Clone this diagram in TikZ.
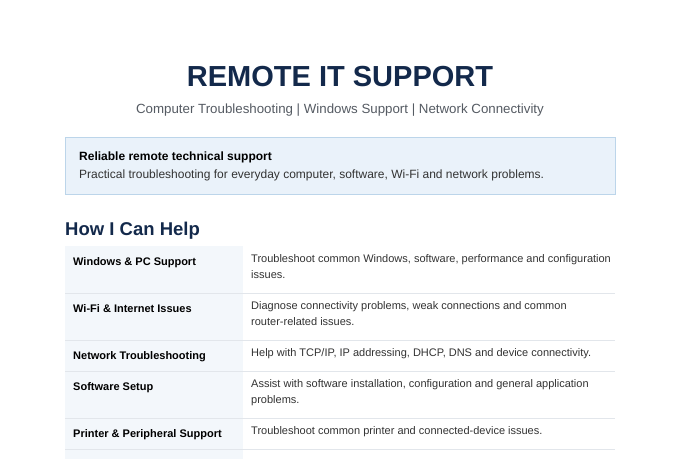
\documentclass[tikz,border=0pt]{standalone}
\usepackage{fontspec}
\setmainfont{Liberation Sans}
\definecolor{navy}{HTML}{13294B}
\definecolor{subg}{HTML}{555B63}
\definecolor{boxf}{HTML}{EAF2FA}
\definecolor{boxd}{HTML}{BCD5EA}
\definecolor{colf}{HTML}{F3F7FB}
\definecolor{rule}{HTML}{E2E6EB}
\definecolor{txt}{HTML}{333333}
\begin{document}
\begin{tikzpicture}[x=1pt,y=-1pt,
  lab/.style={anchor=base west,inner sep=0,font=\fontsize{11}{15.5}\selectfont\bfseries,text=black},
  desc/.style={anchor=north west,inner sep=0,align=left,font=\fontsize{11}{16}\selectfont,text=txt}]
\useasboundingbox[fill=white] (0,0) rectangle (680,459);
\node[anchor=base,inner sep=0,font=\fontsize{29}{30}\selectfont\bfseries,text=navy] (title) at (340,86) {REMOTE IT SUPPORT};
\node[anchor=base,inner sep=0,font=\fontsize{13.3}{15}\selectfont,text=subg] (sub) at (340,113) {Computer Troubleshooting | Windows Support | Network Connectivity};
\node[draw=boxd,fill=boxf,line width=0.8pt,minimum width=550,minimum height=57,anchor=north west,inner sep=0] (box) at (65,137) {};
\node[anchor=base west,inner sep=0,font=\fontsize{12}{14}\selectfont\bfseries] (bh) at (79,160) {Reliable remote technical support};
\node[anchor=base west,inner sep=0,font=\fontsize{12}{14}\selectfont,text=txt] (bt) at (79,178) {Practical troubleshooting for everyday computer, software, Wi-Fi and network problems.};
\node[anchor=base west,inner sep=0,font=\fontsize{18.5}{20}\selectfont\bfseries,text=navy] (hh) at (65,235) {How I Can Help};
\fill[colf] (65,246) rectangle (243,459);
\foreach \y in {293,340,371,418,449} \draw[rule,line width=0.8pt] (65,\y) -- (615,\y);
\node[lab] (l1) at (73,265) {Windows \& PC Support};
\node[lab] (l2) at (73,312) {Wi-Fi \& Internet Issues};
\node[lab] (l3) at (73,359) {Network Troubleshooting};
\node[lab] (l4) at (73,390) {Software Setup};
\node[lab] (l5) at (73,437) {Printer \& Peripheral Support};
\node[desc] (d1) at (251,254.5) {Troubleshoot common Windows, software, performance and configuration\\issues.};
\node[desc] (d2) at (251,301.5) {Diagnose connectivity problems, weak connections and common\\router-related issues.};
\node[desc] (d3) at (251,348.5) {Help with TCP/IP, IP addressing, DHCP, DNS and device connectivity.};
\node[desc] (d4) at (251,379.5) {Assist with software installation, configuration and general application\\problems.};
\node[desc] (d5) at (251,426.5) {Troubleshoot common printer and connected-device issues.};
\end{tikzpicture}
\end{document}
